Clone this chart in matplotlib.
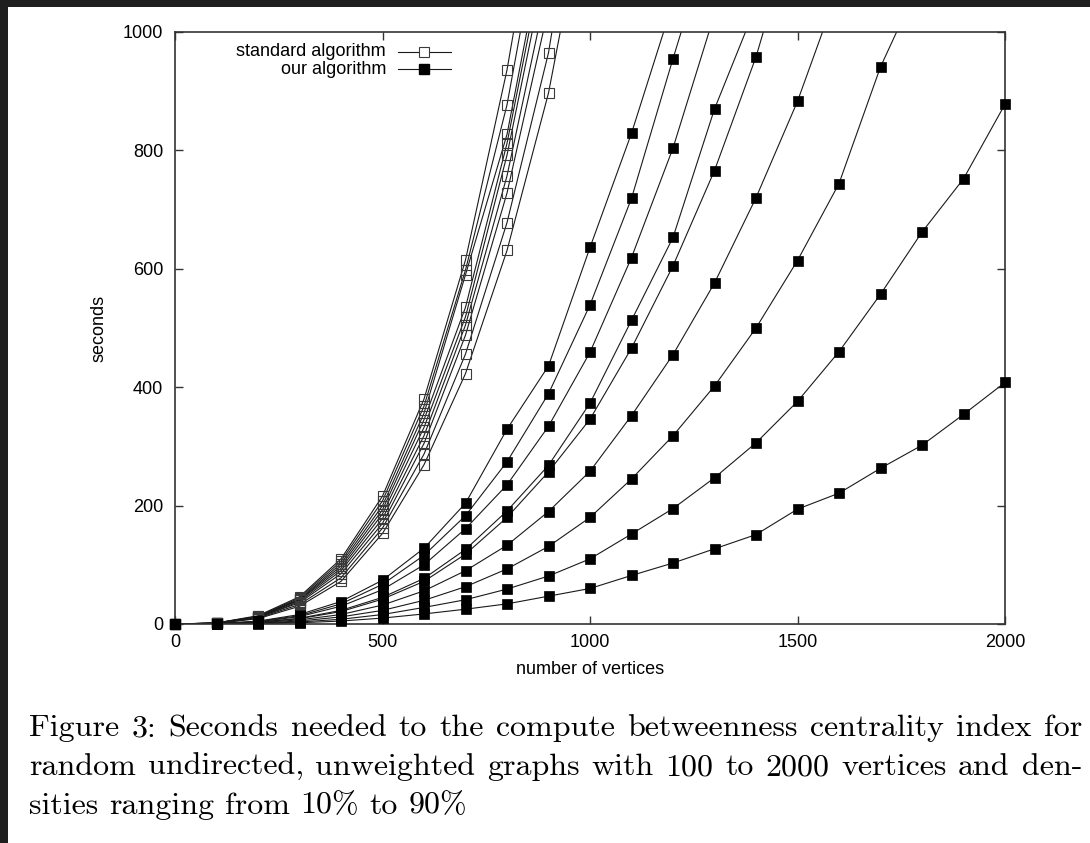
import matplotlib
matplotlib.use('Agg')
import matplotlib.pyplot as plt
from matplotlib.patches import Rectangle

# number of vertices of the random graphs
vertices = [0, 100, 200, 300, 400, 500, 600, 700, 800, 900, 1000,
            1100, 1200, 1300, 1400, 1500, 1600, 1700, 1800, 1900, 2000]

# standard algorithm, seconds per density (90% down to 10%)
std_90 = [0, 1.8, 14, 46, 110, 216, 380, 615, 936, 1340]
std_80 = [0, 1.7, 13, 44, 106, 208, 368, 598, 877, 1260]
std_70 = [0, 1.6, 12.5, 42, 102, 200, 356, 590, 827, 1190]
std_60 = [0, 1.5, 12, 41, 98, 193, 345, 535, 812, 1165]
std_50 = [0, 1.5, 12, 40, 94, 186, 332, 519, 792, 1135]
std_40 = [0, 1.4, 11, 38, 90, 178, 318, 505, 757, 1085]
std_30 = [0, 1.3, 11, 36, 85, 170, 305, 488, 728, 1040]
std_20 = [0, 1.2, 10, 33, 78, 162, 287, 456, 678, 965, 1393]
std_10 = [0, 1.1, 9, 30, 72, 153, 269, 423, 631, 897, 1261]

# our algorithm, seconds per density (90% down to 10%)
our_90 = [0, 0.6, 4.8, 16, 38, 74, 128, 204, 329, 436, 636, 829, 1050]
our_80 = [0, 0.5, 4.3, 14, 34, 67, 116, 183, 274, 389, 539, 719, 955, 1183]
our_70 = [0, 0.5, 3.7, 12.5, 30, 58, 100, 161, 235, 334, 459, 619, 804, 1030]
our_60 = [0, 0.4, 2.9, 9.7, 23, 45, 77, 126, 191, 268, 373, 513, 653, 870, 1044]
our_50 = [0, 0.3, 2.7, 9, 21, 42, 72, 118, 180, 257, 346, 466, 605, 766, 958, 1195]
our_40 = [0, 0.3, 2.1, 7, 16, 32, 56, 90, 133, 190, 258, 352, 455, 576, 720, 883, 1077]
our_30 = [0, 0.2, 1.5, 5, 12, 23, 40, 63, 93, 131, 180, 245, 318, 402, 500, 614, 744, 941, 1093]
our_20 = [0, 0.1, 1.0, 3.4, 8, 16, 28, 41, 59, 81, 110, 152, 195, 247, 306, 376, 460, 557, 662, 752, 878]
our_10 = [0, 0.1, 0.6, 2.1, 5, 10, 17, 25, 34, 47, 60, 82, 103, 127, 151, 194, 221, 263, 302, 354, 408]

standard_series = [std_90, std_80, std_70, std_60, std_50, std_40, std_30, std_20, std_10]
our_series = [our_90, our_80, our_70, our_60, our_50, our_40, our_30, our_20, our_10]

x_ticks = [0, 500, 1000, 1500, 2000]
y_ticks = [0, 200, 400, 600, 800, 1000]
y_max = 1000

caption_lines = [
    'Figure 3: Seconds needed to the compute betweenness centrality index for',
    'random undirected, unweighted graphs with 100 to 2000 vertices and den-',
    'sities ranging from 10% to 90%',
]

line_color = '#1a1a1a'
frame_color = '#333333'

plt.rcParams['font.family'] = ['Liberation Sans', 'DejaVu Sans']

W, H = 1090, 843
fig = plt.figure(figsize=(W / 100, H / 100), dpi=100)
fig.patch.set_facecolor('#1f1f1f')
# white page inside the dark screenshot border
fig.patches.append(Rectangle((8 / W, 0), 1 - 8 / W, 1 - 7 / H, transform=fig.transFigure,
                             facecolor='white', edgecolor='none', zorder=-10))

ax = fig.add_axes([175 / W, 1 - 624 / H, 830 / W, 592 / H])
ax.set_zorder(1)
ax.set_facecolor('white')


def draw_series(values, filled):
    xs = vertices[:len(values)]
    ax.plot(xs, values, color=line_color, lw=0.8, zorder=2)
    shown = [i for i, v in enumerate(values) if v <= y_max]
    if filled:
        ax.plot(xs, values, ls='none', marker='s', markersize=7, color='black',
                markeredgewidth=0.5, markevery=shown, clip_on=False, zorder=4)
    else:
        ax.plot(xs, values, ls='none', marker='s', markersize=7, markerfacecolor='none',
                markeredgecolor='#3a3a3a', markeredgewidth=0.8, markevery=shown,
                clip_on=False, zorder=3)


for s in standard_series:
    draw_series(s, filled=False)
for s in our_series:
    draw_series(s, filled=True)

ax.set_xlim(0, 2000)
ax.set_ylim(0, y_max)
ax.set_xticks(x_ticks)
ax.set_yticks(y_ticks)
ax.tick_params(direction='in', length=6, width=1, color=frame_color,
               top=True, right=True, labelsize=13)
ax.tick_params(axis='y', pad=8.5)
ax.tick_params(axis='x', pad=7)
for sp in ax.spines.values():
    sp.set_color(frame_color)
    sp.set_linewidth(1.2)

ax.set_xlabel('number of vertices', fontsize=13)
ax.set_ylabel('seconds', fontsize=13)
ax.xaxis.set_label_coords(0.5, -0.062)
ax.yaxis.set_label_coords(-0.081, 0.5)

# legend drawn as in gnuplot: right aligned text, sample line on the right
legend_rows = [('standard algorithm', False), ('our algorithm', True)]
row_y = [0.9667, 0.937]
for (label, filled), ry in zip(legend_rows, row_y):
    ax.plot([0.2687, 0.3325], [ry, ry], transform=ax.transAxes, color=line_color, lw=0.8)
    if filled:
        ax.plot([0.3006], [ry], transform=ax.transAxes, marker='s', markersize=7, color='black')
    else:
        ax.plot([0.3006], [ry], transform=ax.transAxes, marker='s', markersize=7,
                markerfacecolor='white', markeredgecolor='#3a3a3a', markeredgewidth=0.8)
    ax.text(0.2542, ry, label, transform=ax.transAxes, ha='right', va='center', fontsize=13)

# caption in Computer Modern, justified like the LaTeX paragraph
renderer = fig.canvas.get_renderer()
cap_font = dict(family='cmr10', fontsize=23, va='baseline', ha='left', color='black')


def word_widths(words):
    widths = []
    for w in words:
        t = fig.text(0, 0, w, **cap_font)
        widths.append(t.get_window_extent(renderer).width)
        t.remove()
    return widths


def draw_caption_line(text, baseline_px, x0, x1=None):
    words = text.split(' ')
    widths = word_widths(words)
    if x1 is None:
        gap = 23 * 100 / 72 * 0.333
    else:
        gap = (x1 - x0 - sum(widths)) / (len(words) - 1)
    x = x0
    for w, wd in zip(words, widths):
        fig.text(x / W, 1 - baseline_px / H, w, **cap_font)
        x += wd + gap


draw_caption_line(caption_lines[0], 736.5, 29, 1082)
draw_caption_line(caption_lines[1], 775, 29, 1082)
draw_caption_line(caption_lines[2], 813.5, 29)

fig.savefig('out.png', dpi=100, facecolor=fig.get_facecolor())
